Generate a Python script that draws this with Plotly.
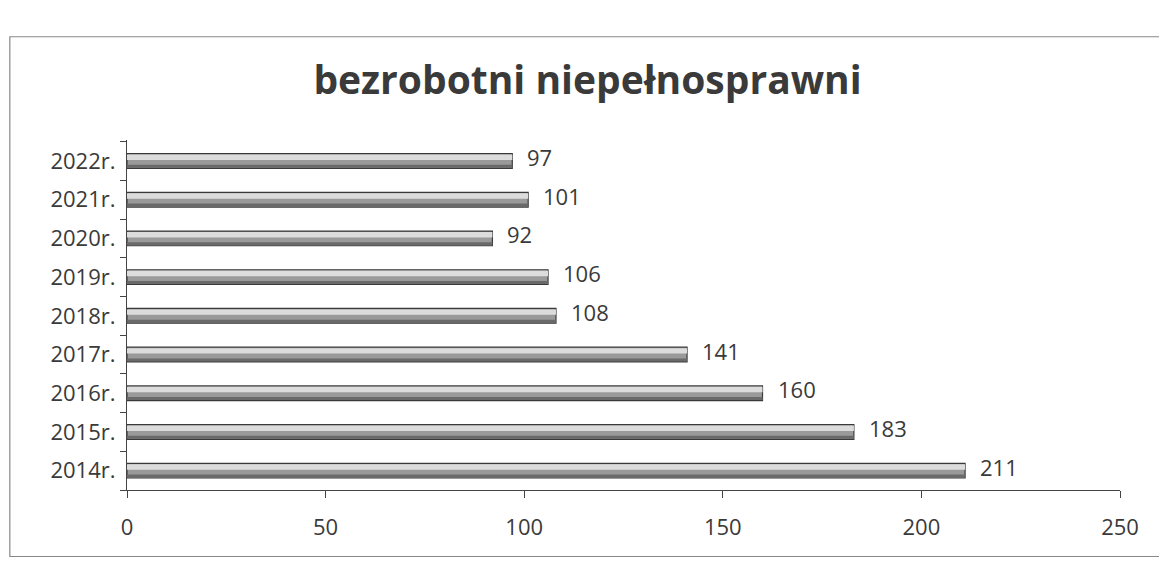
import plotly.graph_objects as go

categories = ["2014r.", "2015r.", "2016r.", "2017r.", "2018r.", "2019r.", "2020r.", "2021r.", "2022r."]
values = [211, 183, 160, 141, 108, 106, 92, 101, 97]
x_ticks = [0, 50, 100, 150, 200, 250]
title_text = "bezrobotni niepełnosprawni"

FONT = "Open Sans"
TXT = "#3a3a3a"

fig = go.Figure()
# main cylinder body
fig.add_trace(go.Bar(
    y=categories, x=values, orientation="h",
    width=0.38,
    marker=dict(color="#9a9a9a", line=dict(color="#3a3a3a", width=1.2)),
    hoverinfo="skip",
))
# light highlight on upper part
fig.add_trace(go.Bar(
    y=categories, x=values, orientation="h",
    width=0.14, offset=0.025,
    marker=dict(color="#dcdcdc", line=dict(width=0)),
    hoverinfo="skip",
))
# dark shade on lower part
fig.add_trace(go.Bar(
    y=categories, x=values, orientation="h",
    width=0.075, offset=-0.175,
    marker=dict(color="#6a6a6a", line=dict(width=0)),
    hoverinfo="skip",
))

annotations = []
for c, v in zip(categories, values):
    annotations.append(dict(
        x=v, y=c, xref="x", yref="y", text=str(v), showarrow=False,
        xanchor="left", yanchor="middle", xshift=13, yshift=4,
        font=dict(size=22, color=TXT, family=FONT),
    ))

fig.update_layout(
    width=1159, height=556,
    barmode="overlay",
    showlegend=False,
    paper_bgcolor="white", plot_bgcolor="white",
    margin=dict(l=119, r=47, t=132, b=74),
    title=dict(text="<b>" + title_text + "</b>", x=0.5, xanchor="center",
               y=0.87, yanchor="middle",
               font=dict(size=39, color=TXT, family=FONT)),
    xaxis=dict(range=[0, 250], tickvals=x_ticks, ticktext=[str(t) for t in x_ticks],
               showgrid=False, zeroline=False, showline=True, linecolor="#444", linewidth=1.2,
               ticks="outside", ticklen=7, tickcolor="#444",
               tickfont=dict(size=22, color=TXT, family=FONT),
               ticklabelstandoff=10),
    yaxis=dict(showgrid=False, showline=True, linecolor="#444", linewidth=1.2,
               ticks="outside", tickson="boundaries", ticklen=6, tickcolor="#444",
               tickfont=dict(size=22, color=TXT, family=FONT),
               ticklabelstandoff=6),
    annotations=annotations,
    shapes=[dict(type="rect", xref="paper", yref="paper",
                 x0=-0.118, x1=1.04, y0=-0.19, y1=1.295,
                 line=dict(color="#888", width=1.2), fillcolor="rgba(0,0,0,0)")],
)

fig.write_html("out.html")
